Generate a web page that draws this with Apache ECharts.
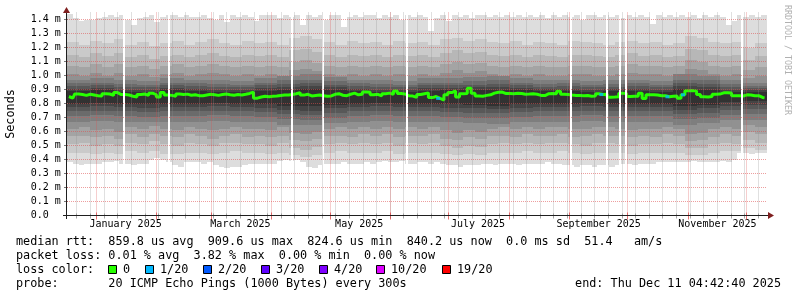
<!DOCTYPE html>
<html><head><meta charset="utf-8">
<script src="https://cdn.jsdelivr.net/npm/echarts@6/dist/echarts.min.js"></script>
<style>html,body{margin:0;padding:0;background:#fff;}#c{width:797px;height:297px;}</style>
</head><body><div id="c"></div>
<script>
// ---- time range & axis labels ----
const timeStart = '2024-12-16T22:00:00Z';
const timeEnd = '2025-12-11T04:42:40Z';
const monthStarts = ['2025-01-01','2025-02-01','2025-03-01','2025-04-01','2025-05-01','2025-06-01',
  '2025-07-01','2025-08-01','2025-09-01','2025-10-01','2025-11-01','2025-12-01'];
const firstWeekLine = '2024-12-22';
const monthLabelDates = ['2025-01-16','2025-03-16','2025-05-16','2025-07-16','2025-09-16','2025-11-16'];
const monthLabels = ['January 2025','March 2025','May 2025','July 2025','September 2025','November 2025'];
const yTicks = [0,0.1,0.2,0.3,0.4,0.5,0.6,0.7,0.8,0.9,1.0,1.1,1.2,1.3,1.4];
const yTickLabels = ['0.0','0.1 m','0.2 m','0.3 m','0.4 m','0.5 m','0.6 m','0.7 m','0.8 m','0.9 m','1.0 m','1.1 m','1.2 m','1.3 m','1.4 m'];

// ---- smoke: sorted ping rtts (ms), outer pair at 3-day, mid at 6-day, inner at 12-day resolution ----
const ping20 = [1.44,1.41,1.39,1.40,1.40,1.41,1.42,1.43,1.42,1.43, 1.40,1.36,1.41,1.42,1.43,1.38,1.42,1.43,1.43,1.42,
  1.43,1.42,1.42,1.43,1.41,1.40,1.43,1.38,1.43,1.42, 1.43,1.42,1.39,1.43,1.43,1.43,1.41,1.43,1.42,1.43,
  1.36,1.43,1.42,1.43,1.40,1.43,1.43,1.35,1.42,1.43, 1.42,1.43,1.43,1.41,1.43,1.42,1.43,1.40,1.43,1.42,
  1.43,1.42,1.32,1.41,1.43,1.39,1.43,1.42,1.43,1.41, 1.43,1.43,1.42,1.43,1.42,1.43,1.42,1.43,1.42,1.43,
  1.42,1.43,1.41,1.43,1.42,1.43,1.42,1.43,1.40,1.43, 1.43,1.42,1.43,1.42,1.43,1.41,1.43,1.42,1.43,1.42,
  1.37,1.43,1.42,1.43,1.42,1.43,1.42,1.43,1.41,1.43, 1.42,1.43,1.42,1.36,1.39,1.43,1.42,1.43,1.42,1.43];
const ping01 = [0.38,0.37,0.36,0.37,0.37,0.37,0.38,0.38,0.39,0.37, 0.37,0.36,0.37,0.37,0.40,0.41,0.40,0.38,0.36,0.35,
  0.38,0.38,0.38,0.37,0.38,0.36,0.35,0.34,0.35,0.35, 0.36,0.37,0.37,0.37,0.37,0.37,0.39,0.40,0.39,0.40,
  0.38,0.35,0.34,0.36,0.37,0.37,0.37,0.38,0.37,0.37, 0.37,0.38,0.37,0.38,0.39,0.38,0.38,0.39,0.37,0.37,
  0.38,0.38,0.37,0.38,0.37,0.36,0.36,0.35,0.36,0.36, 0.36,0.37,0.37,0.36,0.37,0.37,0.37,0.36,0.37,0.37,
  0.37,0.37,0.38,0.37,0.37,0.36,0.36,0.35,0.36,0.36, 0.35,0.36,0.36,0.35,0.36,0.37,0.37,0.36,0.37,0.37,
  0.37,0.38,0.38,0.38,0.38,0.38,0.38,0.39,0.38,0.38, 0.38,0.38,0.39,0.38,0.40,0.45,0.45,0.44,0.45,0.45];

const ping19 = [1.24,1.22,1.25,1.23,1.26,1.22,1.24,1.21,1.23,1.25, 1.22,1.24,1.26,1.23,1.22,1.25,1.23,1.24,1.22,1.27,
  1.28,1.26,1.24,1.22,1.25,1.23,1.24,1.22,1.25,1.23, 1.24,1.22,1.26,1.27,1.25,1.26,1.24,1.23,1.25,1.22,
  1.24,1.23,1.22,1.25,1.24,1.23,1.22,1.24,1.25,1.23, 1.24,1.22,1.23,1.28,1.27,1.24,1.23,1.24,1.20,1.23];
const ping18 = [1.15,1.13,1.16,1.14,1.16,1.13,1.15,1.12,1.14,1.15, 1.13,1.15,1.16,1.14,1.13,1.15,1.14,1.15,1.13,1.18,
  1.19,1.17,1.15,1.13,1.15,1.14,1.15,1.13,1.15,1.14, 1.15,1.13,1.16,1.18,1.16,1.17,1.15,1.14,1.15,1.13,
  1.15,1.14,1.13,1.15,1.15,1.14,1.13,1.15,1.16,1.14, 1.15,1.13,1.14,1.19,1.18,1.15,1.14,1.15,1.11,1.14];
const ping17 = [1.07,1.06,1.08,1.06,1.08,1.06,1.07,1.05,1.07,1.08, 1.06,1.07,1.08,1.07,1.06,1.07,1.06,1.07,1.06,1.10,
  1.11,1.09,1.07,1.06,1.07,1.06,1.07,1.06,1.07,1.06, 1.07,1.06,1.08,1.10,1.08,1.09,1.07,1.06,1.07,1.06,
  1.07,1.06,1.06,1.07,1.07,1.06,1.06,1.07,1.08,1.07, 1.07,1.06,1.07,1.11,1.10,1.07,1.06,1.07,1.04,1.06];
const ping16 = [1.01,1.00,1.02,1.00,1.02,1.00,1.01,0.99,1.01,1.02, 1.00,1.01,1.02,1.01,1.00,1.01,1.00,1.01,1.00,1.04,
  1.05,1.03,1.01,1.00,1.01,1.00,1.01,1.00,1.01,1.00, 1.01,1.00,1.02,1.04,1.02,1.03,1.01,1.00,1.01,1.00,
  1.01,1.00,1.00,1.01,1.01,1.00,1.00,1.01,1.02,1.01, 1.01,1.00,1.01,1.05,1.04,1.01,1.00,1.01,0.98,1.00];
const ping05 = [0.62,0.63,0.61,0.62,0.60,0.63,0.62,0.64,0.62,0.61, 0.63,0.62,0.61,0.62,0.63,0.62,0.62,0.61,0.63,0.59,
  0.58,0.60,0.62,0.63,0.62,0.63,0.62,0.63,0.62,0.63, 0.62,0.63,0.61,0.59,0.61,0.60,0.62,0.63,0.62,0.63,
  0.62,0.63,0.63,0.62,0.62,0.63,0.63,0.62,0.61,0.62, 0.62,0.63,0.62,0.58,0.59,0.62,0.63,0.62,0.65,0.63];
const ping04 = [0.57,0.57,0.56,0.57,0.55,0.58,0.56,0.58,0.57,0.56, 0.58,0.57,0.55,0.57,0.58,0.56,0.57,0.56,0.57,0.54,
  0.53,0.55,0.57,0.57,0.56,0.58,0.57,0.58,0.56,0.57, 0.57,0.58,0.55,0.54,0.56,0.55,0.57,0.57,0.56,0.58,
  0.57,0.57,0.58,0.56,0.57,0.58,0.57,0.57,0.56,0.57, 0.56,0.58,0.57,0.53,0.54,0.56,0.58,0.57,0.60,0.58];
const ping03 = [0.51,0.52,0.50,0.51,0.50,0.52,0.51,0.53,0.51,0.50, 0.52,0.51,0.50,0.52,0.52,0.51,0.51,0.50,0.52,0.48,
  0.47,0.49,0.51,0.52,0.51,0.52,0.51,0.52,0.50,0.52, 0.51,0.52,0.50,0.48,0.50,0.49,0.51,0.52,0.51,0.52,
  0.51,0.52,0.52,0.51,0.50,0.52,0.52,0.51,0.50,0.51, 0.51,0.52,0.51,0.48,0.48,0.51,0.52,0.51,0.54,0.52];
const ping02 = [0.45,0.45,0.44,0.45,0.44,0.46,0.45,0.46,0.44,0.44, 0.45,0.45,0.44,0.45,0.46,0.45,0.45,0.44,0.45,0.43,
  0.42,0.43,0.45,0.46,0.45,0.45,0.45,0.46,0.44,0.45, 0.45,0.45,0.44,0.43,0.44,0.43,0.45,0.45,0.45,0.46,
  0.45,0.45,0.46,0.45,0.44,0.45,0.45,0.45,0.44,0.45, 0.45,0.45,0.45,0.43,0.43,0.45,0.46,0.46,0.48,0.47];

const ping15 = [0.97,0.98,0.97,0.96,0.98,0.97,0.97,0.96,0.98,1.00, 1.01,0.99,0.97,0.97,0.96,0.98,0.98,0.99,1.00,0.98,
  0.97,0.97,0.96,0.97,0.97,0.96,1.01,1.00,0.97,0.95];
const ping14 = [0.945,0.95,0.94,0.935,0.95,0.945,0.94,0.935,0.95,0.965, 0.97,0.96,0.945,0.94,0.935,0.95,0.95,0.96,0.965,0.95,
  0.94,0.945,0.935,0.94,0.945,0.935,0.97,0.965,0.94,0.925];
const ping13 = [0.925,0.93,0.92,0.915,0.93,0.925,0.92,0.915,0.93,0.94, 0.945,0.935,0.925,0.92,0.915,0.93,0.93,0.935,0.94,0.93,
  0.92,0.925,0.915,0.92,0.925,0.915,0.945,0.94,0.92,0.91];
const ping12 = [0.905,0.91,0.90,0.90,0.91,0.905,0.90,0.90,0.91,0.92, 0.925,0.915,0.905,0.90,0.90,0.91,0.91,0.915,0.92,0.91,
  0.905,0.905,0.90,0.905,0.905,0.90,0.925,0.92,0.90,0.895];
const ping11 = [0.89,0.895,0.885,0.885,0.895,0.89,0.885,0.885,0.89,0.90, 0.905,0.90,0.89,0.885,0.885,0.89,0.895,0.90,0.90,0.895,
  0.89,0.89,0.885,0.89,0.89,0.885,0.905,0.90,0.885,0.88];
const ping10 = [0.80,0.805,0.80,0.795,0.80,0.80,0.805,0.80,0.795,0.785, 0.78,0.79,0.80,0.805,0.80,0.80,0.795,0.79,0.785,0.795,
  0.80,0.80,0.805,0.80,0.80,0.80,0.785,0.79,0.81,0.815];
const ping09 = [0.775,0.78,0.775,0.77,0.775,0.775,0.78,0.775,0.77,0.755, 0.75,0.765,0.775,0.78,0.775,0.775,0.77,0.765,0.76,0.77,
  0.775,0.775,0.78,0.775,0.775,0.775,0.755,0.765,0.785,0.79];
const ping08 = [0.745,0.75,0.745,0.74,0.745,0.745,0.75,0.745,0.74,0.725, 0.72,0.735,0.745,0.75,0.745,0.745,0.74,0.735,0.73,0.74,
  0.745,0.745,0.75,0.745,0.745,0.745,0.725,0.735,0.755,0.76];
const ping07 = [0.71,0.715,0.71,0.705,0.71,0.71,0.715,0.71,0.705,0.69, 0.685,0.70,0.71,0.715,0.71,0.71,0.705,0.70,0.695,0.705,
  0.71,0.71,0.715,0.71,0.71,0.71,0.69,0.70,0.72,0.725];
const ping06 = [0.67,0.675,0.67,0.665,0.67,0.67,0.675,0.67,0.665,0.65, 0.645,0.66,0.67,0.675,0.67,0.67,0.665,0.66,0.655,0.665,
  0.67,0.67,0.675,0.67,0.67,0.67,0.65,0.66,0.68,0.685];

// ---- median rtt (ms), 2-day steps ----
const medianRtt = [
  0.850,0.838,0.868,0.864,0.858,0.866,0.861,0.856,0.853,0.870, 0.868,0.858,0.878,0.864,0.865,0.861,0.852,0.846,0.864,0.868,
  0.858,0.874,0.864,0.846,0.878,0.861,0.858,0.852,0.868,0.864, 0.867,0.859,0.863,0.856,0.855,0.861,0.866,0.862,0.858,0.864,
  0.868,0.863,0.859,0.864,0.861,0.866,0.872,0.881,0.838,0.846, 0.852,0.848,0.851,0.853,0.857,0.861,0.860,0.864,0.870,0.878,
  0.860,0.866,0.854,0.857,0.860,0.856,0.852,0.854,0.866,0.870, 0.859,0.856,0.866,0.874,0.862,0.866,0.882,0.880,0.862,0.866,
  0.854,0.870,0.874,0.866,0.889,0.872,0.868,0.855,0.853,0.844, 0.864,0.870,0.876,0.842,0.850,0.836,0.8246,0.862,0.878,0.890,
  0.847,0.870,0.872,0.9096,0.874,0.853,0.852,0.858,0.862,0.874, 0.880,0.882,0.871,0.872,0.870,0.873,0.871,0.866,0.867,0.869,
  0.866,0.858,0.857,0.870,0.872,0.869,0.888,0.866,0.864,0.860, 0.857,0.858,0.856,0.857,0.852,0.853,0.869,0.864,0.866,0.845,
  0.846,0.848,0.874,0.872,0.850,0.852,0.851,0.874,0.836,0.862, 0.863,0.860,0.855,0.856,0.848,0.852,0.853,0.838,0.862,0.891,
  0.892,0.889,0.865,0.848,0.847,0.850,0.866,0.867,0.876,0.877, 0.875,0.856,0.856,0.854,0.862,0.861,0.855,0.856,0.843,0.8402];
const lossOneTwentieth = [95,137,154,158];   // median steps drawn with 1/20 loss colour
const gapDates = ['2025-01-14T11:00:00Z','2025-02-06T13:00:00Z','2025-04-10T22:00:00Z','2025-04-26T19:00:00Z',
  '2025-06-08T22:00:00Z','2025-09-01T07:00:00Z','2025-09-19T14:00:00Z','2025-09-26T05:00:00Z',
  '2025-09-29T14:00:00Z','2025-11-28T02:00:00Z'];

// ---- legend ----
const lossLabels = ['0','1/20','2/20','3/20','4/20','10/20','19/20'];
const lossColors = ['#26ff00','#00b8ff','#0059ff','#5e00ff','#7e00ff','#dd00ff','#ff0000'];
const legendRtt = 'median rtt:  859.8 us avg  909.6 us max  824.6 us min  840.2 us now  0.0 ms sd  51.4   am/s';
const legendLoss = 'packet loss: 0.01 % avg  3.82 % max  0.00 % min  0.00 % now';
const legendProbe = 'probe:       20 ICMP Echo Pings (1000 Bytes) every 300s';
const legendEnd = 'end: Thu Dec 11 04:42:40 2025';

// ---------------------------------------------------------------
const T0 = Date.parse(timeStart), T1 = Date.parse(timeEnd);
const DAY = 86400000;
const MONO = '"DejaVu Sans Mono", monospace';
const smokeColors = ['#dddddd','#cacaca','#b7b7b7','#a4a4a4','#919191','#7e7e7e','#6b6b6b','#585858','#454545','#323232'];
const bandPairs = [[ping01,ping20],[ping02,ping19],[ping03,ping18],[ping04,ping17],[ping05,ping16],
  [ping06,ping15],[ping07,ping14],[ping08,ping13],[ping09,ping12],[ping10,ping11]];

function bandSeries(lo, hi, color, idx) {
  const n = lo.length, step = (T1 - T0) / n;
  return {
    type: 'custom', name: 'smoke' + idx, silent: true, z: 2, clip: true,
    encode: { x: [0, 1], y: [2, 3] },
    data: lo.map((v, i) => [T0 + i * step, T0 + (i + 1) * step, v, hi[i]]),
    renderItem(params, api) {
      const a = api.coord([api.value(0), api.value(2)]);
      const b = api.coord([api.value(1), api.value(3)]);
      const x0 = Math.round(a[0]), x1 = Math.round(b[0]);
      const y0 = Math.round(b[1]), y1 = Math.round(a[1]);
      return { type: 'rect', shape: { x: x0, y: y0, width: x1 - x0, height: y1 - y0 }, style: { fill: color } };
    }
  };
}

const medStep = (T1 - T0) / medianRtt.length;
const medianData = medianRtt.map((v, k) => [T0 + (k + 0.5) * medStep, v]);

// grid lines: kind 0 minor vertical (weekly), 1 major vertical (monthly), 2 horizontal
const gridData = [];
for (let t = Date.parse(firstWeekLine + 'T00:00:00Z'); t < T1; t += 7 * DAY) gridData.push([t, 0, 0]);
monthStarts.forEach(d => gridData.push([Date.parse(d + 'T00:00:00Z'), 0, 1]));
yTicks.forEach(v => gridData.push([T0, v, 2]));

const MINOR = 'rgba(143,143,143,0.55)';
const MAJOR = 'rgba(222,79,79,0.55)';

const series = bandPairs.map((p, i) => bandSeries(p[0], p[1], smokeColors[i], i + 1));
series.push({
  type: 'line', name: 'median', data: medianData, step: 'middle', symbol: 'none', z: 3, silent: true,
  lineStyle: { color: lossColors[0], width: 3 }
});
series.push({
  type: 'scatter', name: 'loss 1/20', z: 4, silent: true, symbol: 'rect', symbolSize: [4, 3],
  itemStyle: { color: lossColors[1] },
  data: lossOneTwentieth.map(k => medianData[k])
});
series.push({
  type: 'custom', name: 'gaps', z: 5, silent: true, clip: true,
  data: gapDates.map(d => [Date.parse(d), 0]),
  renderItem(params, api) {
    const cs = params.coordSys;
    const x0 = Math.round(api.coord([api.value(0), 0])[0]);
    const x1 = Math.max(x0 + 2, Math.round(api.coord([api.value(0) + DAY, 0])[0]));
    return { type: 'rect', shape: { x: x0, y: cs.y, width: x1 - x0, height: cs.height }, style: { fill: '#ffffff' } };
  }
});
series.push({
  type: 'custom', name: 'grid', z: 6, silent: true, clip: false,
  data: gridData,
  renderItem(params, api) {
    const cs = params.coordSys;
    const kind = api.value(2);
    const top = cs.y, bottom = cs.y + cs.height;
    if (kind === 2) {
      const v = api.value(1);
      const y = Math.floor(api.coord([T0, v])[1]) + 0.5;
      const children = [
        { type: 'line', shape: { x1: cs.x - 3, y1: y, x2: cs.x + 1, y2: y }, style: { stroke: '#777', lineWidth: 1 } }
      ];
      if (v > 0) children.push({ type: 'line', shape: { x1: cs.x, y1: y, x2: cs.x + cs.width, y2: y },
        style: { stroke: MAJOR, lineWidth: 1, lineDash: [1, 1] } });
      return { type: 'group', children };
    }
    const x = Math.floor(api.coord([api.value(0), 0])[0]) + 0.5;
    const col = kind === 1 ? MAJOR : MINOR;
    return { type: 'group', children: [
      { type: 'line', shape: { x1: x, y1: top, x2: x, y2: bottom }, style: { stroke: col, lineWidth: 1, lineDash: [1, 1] } },
      { type: 'line', shape: { x1: x, y1: bottom - (kind === 1 ? 3 : 2), x2: x, y2: bottom + (kind === 1 ? 4 : 3) },
        style: { stroke: kind === 1 ? 'rgba(222,79,79,0.8)' : 'rgba(143,143,143,0.8)', lineWidth: 1 } }
    ] };
  }
});

// legend graphics
const graphics = [];
const legendFont = '11.8px ' + MONO;
function txt(text, x, y, extra) {
  return Object.assign({ type: 'text', silent: true, x: x, y: y,
    style: { text: text, x: 0, y: 0, font: legendFont, fill: '#000', align: 'left', verticalAlign: 'middle' } }, extra || {});
}
graphics.push(txt(legendRtt, 16, 241.5));
graphics.push(txt(legendLoss, 16, 255.5));
graphics.push(txt('loss color:', 16, 269.5));
const boxX = [108.5, 145.5, 203.5, 261.5, 319.5, 376.5, 442.5];
lossLabels.forEach((l, i) => {
  graphics.push({ type: 'rect', silent: true, shape: { x: boxX[i], y: 265.5, width: 8, height: 8 },
    style: { fill: lossColors[i], stroke: '#000', lineWidth: 1 } });
  graphics.push(txt(l, boxX[i] + 14.5, 269.5));
});
graphics.push(txt(legendProbe, 16, 283.5));
const endTxt = txt(legendEnd, 781, 283.5);
endTxt.style.align = 'right';
graphics.push(endTxt);
// axis title + watermark
graphics.push({ type: 'text', silent: true, x: 11, y: 114, rotation: Math.PI / 2,
  style: { text: 'Seconds', x: 0, y: 0, font: legendFont, fill: '#000', align: 'center', verticalAlign: 'middle' } });
graphics.push({ type: 'text', silent: true, x: 787.5, y: 60, rotation: -Math.PI / 2,
  style: { text: 'RRDTOOL / TOBI OETIKER', x: 0, y: 0, font: '8.3px ' + MONO, fill: '#b0b0b0', align: 'center', verticalAlign: 'middle' } });
// axis lines and arrows
graphics.push({ type: 'line', silent: true, z: 20, shape: { x1: 63, y1: 215.5, x2: 769, y2: 215.5 }, style: { stroke: '#1f1f1f', lineWidth: 1 } });
graphics.push({ type: 'line', silent: true, z: 20, shape: { x1: 66.5, y1: 219, x2: 66.5, y2: 12 }, style: { stroke: '#1f1f1f', lineWidth: 1 } });
graphics.push({ type: 'polygon', silent: true, z: 20, shape: { points: [[768, 212], [774, 215.5], [768, 219]] }, style: { fill: '#7f1f1f' } });
graphics.push({ type: 'polygon', silent: true, z: 20, shape: { points: [[63, 13], [66.5, 7], [70, 13]] }, style: { fill: '#7f1f1f' } });

const chart = echarts.init(document.getElementById('c'), null, { renderer: 'canvas' });
chart.setOption({
  animation: false,
  backgroundColor: '#ffffff',
  grid: { left: 67, right: 30.5, top: 12.5, bottom: 81.5, containLabel: false, outerBoundsMode: 'none' },
  xAxis: {
    type: 'value', min: T0, max: T1, z: 1,
    axisLine: { show: false }, axisTick: { show: false }, splitLine: { show: false },
    axisLabel: {
      customValues: monthLabelDates.map(d => Date.parse(d + 'T00:00:00Z')),
      formatter: v => { const i = monthLabelDates.findIndex(d => Math.abs(Date.parse(d + 'T00:00:00Z') - v) < 1000); return i >= 0 ? monthLabels[i] : ''; },
      fontFamily: MONO, fontSize: 10, color: '#000', margin: 3.5, hideOverlap: false
    }
  },
  yAxis: {
    type: 'value', min: 0, max: 1.45, interval: 0.1, z: 1,
    axisLine: { show: false }, axisTick: { show: false }, splitLine: { show: false },
    axisLabel: {
      formatter: v => { const i = yTicks.findIndex(t => Math.abs(t - v) < 1e-6); return i >= 0 ? yTickLabels[i] : ''; },
      fontFamily: MONO, fontSize: 10, color: '#000', align: 'left', margin: 36.3, showMaxLabel: true
    }
  },
  series: series,
  graphic: { elements: graphics }
});
</script>
</body></html>
